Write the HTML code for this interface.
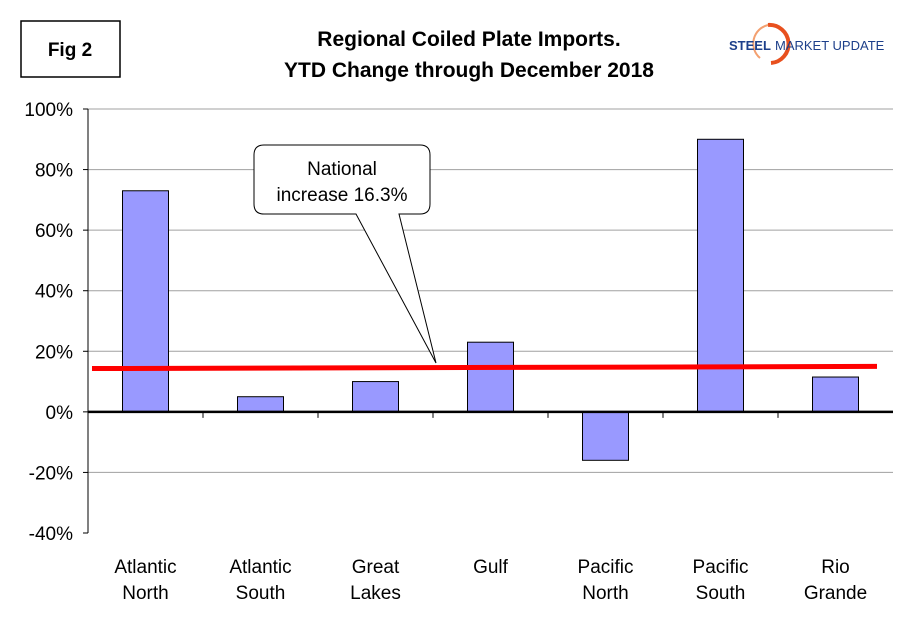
<!DOCTYPE html>
<html><head><meta charset="utf-8"><style>
body{margin:0;background:#fff;font-family:"Liberation Sans",Arial,sans-serif}
svg text{font-family:"Liberation Sans",Arial,sans-serif}
</style></head><body>
<svg id="c" width="910" height="622" xmlns="http://www.w3.org/2000/svg">
<rect x="0" y="0" width="910" height="622" fill="#fff"/>
<rect x="21" y="21" width="99" height="56" fill="#fff" stroke="#000" stroke-width="1.5"/>
<text x="70" y="56" font-size="19" font-weight="bold" text-anchor="middle">Fig 2</text>
<text x="469" y="46" font-size="21" font-weight="bold" text-anchor="middle">Regional Coiled Plate Imports.</text>
<text x="469" y="77" font-size="21" font-weight="bold" text-anchor="middle">YTD Change through December 2018</text>
<g>
<path d="M768,25 A19,19 0 0,1 771,63" fill="none" stroke="#e8501e" stroke-width="4"/>
<path d="M768,25 A19,19 0 0,0 760,58" fill="none" stroke="#f3a070" stroke-width="2"/>
<text x="729" y="50" font-size="13" font-weight="bold" fill="#1d3f8a">STEEL</text>
<text x="775" y="50" font-size="13" fill="#1d3f8a">MARKET UPDATE</text>
</g>
<g id="grid"></g><g id="bars"></g><g id="axes"></g>
<g>
<path d="M264,145 L420,145 Q430,145 430,155 L430,204 Q430,214 420,214 L399,214 L436,363 L356,214 L264,214 Q254,214 254,204 L254,155 Q254,145 264,145 Z" fill="#fff" stroke="#000" stroke-width="1"/>
<text x="342" y="175" font-size="19" text-anchor="middle">National</text>
<text x="342" y="201" font-size="19" text-anchor="middle">increase 16.3%</text>
</g>
</svg>
<script>
const categories=[["Atlantic","North"],["Atlantic","South"],["Great","Lakes"],["Gulf",""],["Pacific","North"],["Pacific","South"],["Rio","Grande"]];
const values=[73,5,10,23,-16,90,11.5];
const ticks=[100,80,60,40,20,0,-20,-40];
const nationalLine=[14.3,15];
const NS="http://www.w3.org/2000/svg";
const X0=88,X1=893,Y100=109,Ym40=533;
const y=v=>Y100+(100-v)*(Ym40-Y100)/140;
const bw=(X1-X0)/categories.length;
const cx=i=>X0+bw*(i+0.5);
function mk(t,a,p){const e=document.createElementNS(NS,t);for(const k in a)e.setAttribute(k,a[k]);p.appendChild(e);return e;}
const g=document.getElementById('grid'),b=document.getElementById('bars'),ax=document.getElementById('axes');
ticks.forEach(t=>{
 if(t!==0&&t!==-40){const l=mk('line',{x1:X0,x2:X1,y1:y(t),y2:y(t),stroke:'#a0a0a0','stroke-width':1},g);
 
 }
 const tk=mk('line',{x1:X0-5,x2:X0,y1:y(t),y2:y(t),stroke:'#000'},ax);
 
 
 const tx=mk('text',{x:X0-15,y:y(t)+7,'font-size':19,'text-anchor':'end'},ax);
 tx.textContent=t+'%';
 
 
});
values.forEach((v,i)=>{
 const r=mk('rect',{x:cx(i)-23,width:46,y:Math.min(y(v),y(0)),height:Math.abs(y(v)-y(0)),fill:'#9999ff',stroke:'#000','stroke-width':1},b);
 
 
 categories[i].forEach((s,j)=>{if(!s)return;
  const t=mk('text',{x:cx(i),y:573+j*26,'font-size':19,'text-anchor':'middle'},ax);
  t.textContent=s;
  
  });
 if(i>0){const tk=mk('line',{x1:X0+bw*i,x2:X0+bw*i,y1:y(0),y2:y(0)+6,stroke:'#000'},ax);
 
 }
});
const ya=mk('line',{x1:X0,x2:X0,y1:Y100,y2:Ym40,stroke:'#000','stroke-width':1},ax);


const xa=mk('line',{x1:X0,x2:X1,y1:y(0),y2:y(0),stroke:'#000','stroke-width':2.5},ax);


const nl=mk('line',{x1:92,x2:877,y1:y(nationalLine[0]),y2:y(nationalLine[1]),stroke:'#ff0000','stroke-width':5},ax);


</script>
</body></html>
